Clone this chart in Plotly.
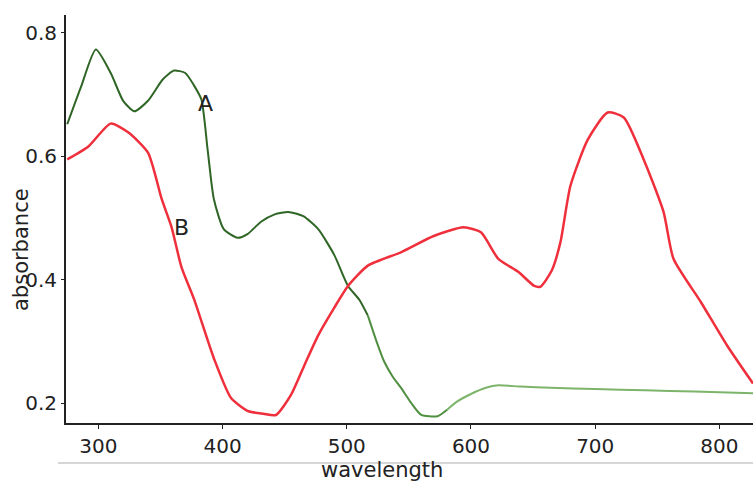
import plotly.graph_objects as go

# Curve A (green)
wl_a = [275, 286, 298, 310, 320, 329, 340, 352, 361, 370, 377, 383, 388, 393, 401, 412, 420, 431, 442, 453, 465, 477, 490, 501, 510, 517, 524, 530, 537, 544, 552, 560, 573, 581, 589, 600, 612, 622, 640, 664, 700, 740, 780, 827]
abs_a = [0.652, 0.712, 0.773, 0.735, 0.690, 0.673, 0.690, 0.725, 0.739, 0.735, 0.715, 0.692, 0.611, 0.531, 0.482, 0.468, 0.474, 0.494, 0.506, 0.510, 0.503, 0.482, 0.440, 0.390, 0.368, 0.342, 0.300, 0.268, 0.243, 0.224, 0.200, 0.181, 0.179, 0.190, 0.203, 0.215, 0.225, 0.229, 0.227, 0.225, 0.223, 0.221, 0.219, 0.216]

# Curve B (red)
wl_b = [275, 292, 310, 324, 340, 351, 359, 367, 377, 393, 407, 421, 433, 443, 455, 466, 477, 490, 501, 517, 544, 570, 594, 608, 622, 638, 651, 656, 665, 672, 680, 694, 710, 723, 739, 755, 763, 785, 806, 827]
abs_b = [0.595, 0.616, 0.653, 0.639, 0.606, 0.531, 0.485, 0.420, 0.369, 0.273, 0.208, 0.187, 0.183, 0.181, 0.213, 0.262, 0.310, 0.355, 0.390, 0.423, 0.445, 0.471, 0.485, 0.477, 0.434, 0.413, 0.390, 0.389, 0.415, 0.461, 0.552, 0.627, 0.671, 0.663, 0.595, 0.510, 0.434, 0.364, 0.294, 0.232]

x_ticks = [300, 400, 500, 600, 700, 800]
y_ticks = [0.2, 0.4, 0.6, 0.8]
x_range = [274, 827]
y_range = [0.168, 0.829]

# green fades from dark to light along the wavelength (scanned print look)
green_breaks = [517, 581]
green_colors = ["#2f6626", "#4f8f3f", "#7cb46a"]

fig = go.Figure()
bounds = [wl_a[0]] + green_breaks + [wl_a[-1]]
for k in range(len(green_colors)):
    idx = [i for i, w in enumerate(wl_a) if bounds[k] <= w <= bounds[k + 1]]
    fig.add_trace(go.Scatter(x=[wl_a[i] for i in idx], y=[abs_a[i] for i in idx], mode="lines",
                             line=dict(color=green_colors[k], width=2, shape="spline", smoothing=0.6),
                             name="A", hoverinfo="x+y"))
fig.add_trace(go.Scatter(x=wl_b, y=abs_b, mode="lines",
                         line=dict(color="#ef2f3b", width=2.5, shape="spline", smoothing=0.6), name="B"))

font = "DejaVu Sans, Liberation Sans, Arial, sans-serif"
fig.update_layout(
    width=753, height=484,
    margin=dict(l=66, r=0, t=15, b=61),
    paper_bgcolor="white", plot_bgcolor="white",
    showlegend=False,
    font=dict(family=font, size=20, color="#222"),
    xaxis=dict(range=x_range, tickvals=x_ticks, showgrid=False, zeroline=False, automargin=False,
               showline=True, linecolor="#222", linewidth=2, ticks="outside", ticklen=4,
               tickcolor="#222", tickfont=dict(size=20), ticklabelstandoff=0),
    yaxis=dict(range=y_range, tickvals=y_ticks, tickformat=".1f", showgrid=False, zeroline=False, automargin=False,
               showline=True, linecolor="#222", linewidth=2, ticks="outside", ticklen=3,
               tickcolor="#222", tickfont=dict(size=20), ticklabelstandoff=0),
)

# convert on-screen pixel positions to paper coords for annotations
pw, ph = 687, 408
def px(xp): return (xp - 66) / pw
def py(yp): return (423 - yp) / ph

fig.add_annotation(text="absorbance", x=px(21), y=py(250), xref="paper", yref="paper", showarrow=False,
                   textangle=-90, font=dict(size=21, color="#222"), xanchor="center", yanchor="middle")
fig.add_annotation(text="wavelength", x=px(382), y=py(470), xref="paper", yref="paper", showarrow=False,
                   font=dict(size=21, color="#222"), xanchor="center", yanchor="middle")
fig.add_annotation(text="A", x=px(205), y=py(103), xref="paper", yref="paper", showarrow=False,
                   font=dict(size=22, color="#222"), xanchor="center", yanchor="middle")
fig.add_annotation(text="B", x=px(181), y=py(228), xref="paper", yref="paper", showarrow=False,
                   font=dict(size=22, color="#222"), xanchor="center", yanchor="middle")
fig.add_shape(type="line", xref="paper", yref="paper", x0=px(58), x1=1.0, y0=py(463), y1=py(463),
              line=dict(color="#c8c8c8", width=1.5), layer="below")

fig.write_html("out.html", config={"displayModeBar": False},
               post_script="document.body.style.margin='0';document.body.style.overflow='hidden';")
